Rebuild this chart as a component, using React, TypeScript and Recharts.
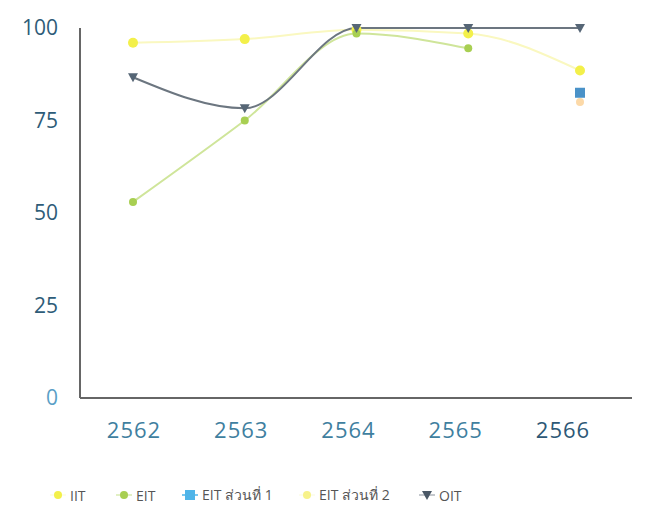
import { LineChart, Line, XAxis, YAxis, Legend } from "recharts";

const years = ["2562", "2563", "2564", "2565", "2566"];
const iit = [96, 97, 99.5, 98.5, 88.5];
const eit = [53, 75, 98.5, 94.5, null];
const eitPart1 = [null, null, null, null, 82.5];
const eitPart2 = [null, null, null, null, 80];
const oit = [86.7, 78.3, 100, 100, 100];
const yTicks = [0, 25, 50, 75, 100];

const data = years.map((year, i) => ({
  year,
  iit: iit[i],
  eit: eit[i],
  eit1: eitPart1[i],
  eit2: eitPart2[i],
  oit: oit[i],
}));

const FONT = "'Open Sans', 'Noto Sans', 'DejaVu Sans', sans-serif";

const Triangle = (props: any) => {
  const { cx, cy, fill } = props;
  if (cx == null || cy == null || props.value == null) return null;
  return (
    <polygon
      points={`${cx - 5},${cy - 4} ${cx + 5},${cy - 4} ${cx},${cy + 5}`}
      fill={fill}
    />
  );
};

const Square = (props: any) => {
  const { cx, cy, fill } = props;
  if (cx == null || cy == null || props.value == null) return null;
  return <rect x={cx - 5} y={cy - 5} width={10} height={10} fill={fill} />;
};

const YTick = (props: any) => {
  const { x, y, payload } = props;
  return (
    <text
      x={x}
      y={y}
      dy="0.35em"
      textAnchor="end"
      fontSize={21}
      fontFamily={FONT}
      fill={payload.value === 0 ? "#5a9fc6" : "#2e5c78"}
    >
      {payload.value}
    </text>
  );
};

// labels in the original sit a little left of their points, drifting more to the right
const XTick = (props: any) => {
  const { x, y, payload, index } = props;
  return (
    <text
      x={x + 1 - index * 4.5}
      y={y}
      dy="0.71em"
      textAnchor="middle"
      fontSize={22}
      letterSpacing={1}
      fontFamily={FONT}
      fill={index === 4 ? "#2d5876" : "#3f7f9f"}
    >
      {payload.value}
    </text>
  );
};

const legendItems = [
  { label: "IIT", color: "#f3f04a", line: "#fdfce0", shape: "circle", width: 66 },
  { label: "EIT", color: "#a8cf52", line: "#d8ebb0", shape: "circle", width: 66 },
  { label: "EIT ส่วนที่ 1", color: "#4fb4e8", line: "#4fb4e8", shape: "square", width: 117 },
  { label: "EIT ส่วนที่ 2", color: "#f7f28a", line: "#fdfce8", shape: "circle", width: 120 },
  { label: "OIT", color: "#4a5866", line: "#b0b6bc", shape: "triangle", width: 60 },
];

const CustomLegend = () => (
  <div
    style={{
      display: "flex",
      fontFamily: FONT,
      fontSize: 14,
      color: "#555",
      paddingLeft: 49,
    }}
  >
    {legendItems.map((item) => (
      <span
        key={item.label}
        style={{ display: "inline-flex", alignItems: "center", gap: 3, width: item.width }}
      >
        <svg width={18} height={12}>
          <line x1={1} y1={6} x2={17} y2={6} stroke={item.line} strokeWidth={1.5} />
          {item.shape === "circle" && <circle cx={9} cy={6} r={4} fill={item.color} />}
          {item.shape === "square" && <rect x={4} y={1} width={10} height={10} fill={item.color} />}
          {item.shape === "triangle" && (
            <polygon points="4,2 14,2 9,11" fill={item.color} />
          )}
        </svg>
        {item.label}
      </span>
    ))}
  </div>
);

export default function App() {
  return (
    <div style={{ position: "absolute", left: 0, top: 0, background: "#fff" }}>
      <LineChart
        width={645}
        height={506}
        data={data}
        margin={{ top: 28, right: 13, left: 0, bottom: 0 }}
      >
        <XAxis
          dataKey="year"
          padding={{ left: 53, right: 52 }}
          tick={<XTick />}
          tickLine={false}
          tickSize={0}
          tickMargin={24}
          height={86}
          stroke="#666"
          strokeWidth={2}
        />
        <YAxis
          domain={[0, 100]}
          ticks={yTicks}
          width={80}
          tick={<YTick />}
          tickLine={false}
          tickSize={0}
          tickMargin={22}
          stroke="#666"
          strokeWidth={2}
          interval={0}
        />
        <Legend verticalAlign="bottom" height={22} content={<CustomLegend />} />
        <Line
          type="monotone"
          dataKey="iit"
          name="IIT"
          stroke="#faf8c0"
          strokeWidth={2}
          dot={{ r: 5, fill: "#f3f04a", stroke: "none" }}
          isAnimationActive={false}
        />
        <Line
          type="monotone"
          dataKey="eit"
          name="EIT"
          stroke="#cfe59a"
          strokeWidth={2}
          dot={{ r: 4, fill: "#a8cf52", stroke: "none" }}
          isAnimationActive={false}
        />
        <Line
          type="monotone"
          dataKey="eit1"
          name="EIT ส่วนที่ 1"
          stroke="#4a92c8"
          dot={<Square fill="#4a92c8" />}
          isAnimationActive={false}
        />
        <Line
          type="monotone"
          dataKey="eit2"
          name="EIT ส่วนที่ 2"
          stroke="#fbe3b0"
          dot={{ r: 4, fill: "#fcd9a8", stroke: "none" }}
          isAnimationActive={false}
        />
        <Line
          type="monotone"
          dataKey="oit"
          name="OIT"
          stroke="#6c7680"
          strokeWidth={2}
          dot={<Triangle fill="#566676" />}
          isAnimationActive={false}
        />
      </LineChart>
    </div>
  );
}
